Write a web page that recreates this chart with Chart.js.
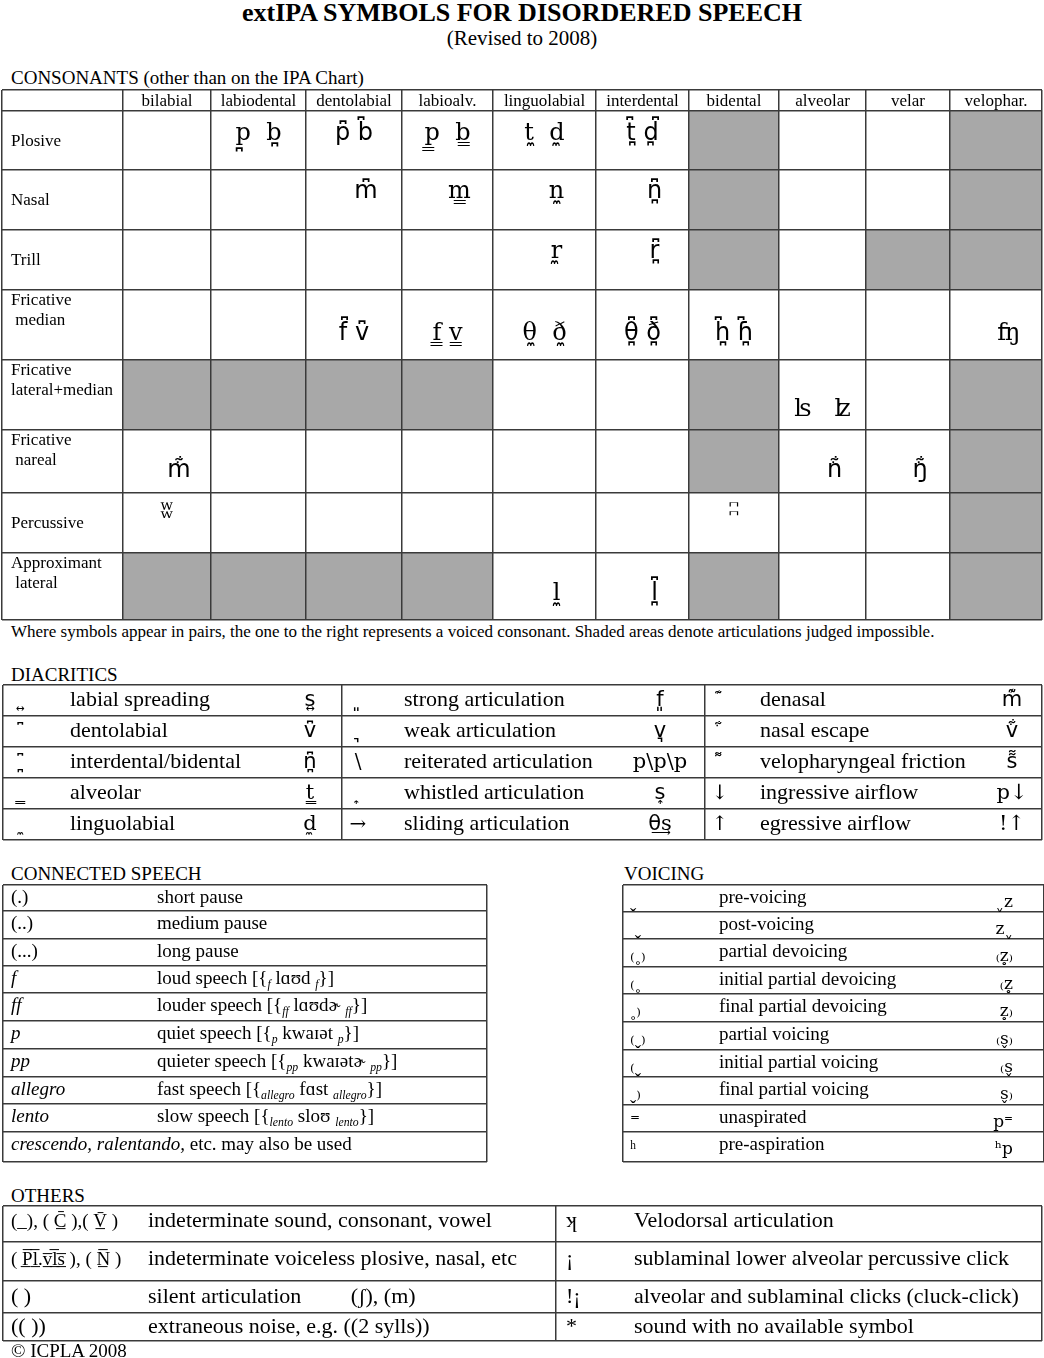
<!DOCTYPE html>
<html>
<head>
<meta charset="utf-8">
<script src="https://cdn.jsdelivr.net/npm/chart.js@4.4.1/dist/chart.umd.min.js"></script>
<style>
  body { margin: 0; background: #fff; }
  #page { position: relative; width: 1044px; height: 1358px; overflow: hidden;
          font-family: 'Liberation Serif', 'DejaVu Serif', serif; color: #000; }
  .t { position: absolute; white-space: nowrap; line-height: 1; }
  canvas { position: absolute; }
</style>
</head>
<body>
<div id="page">
  <div class="t" style="left:0;width:1044px;text-align:center;top:0px;font-size:26px;font-weight:bold">extIPA SYMBOLS FOR DISORDERED SPEECH</div>
  <div class="t" style="left:0;width:1044px;text-align:center;top:28px;font-size:21px">(Revised to 2008)</div>
  <div class="t" style="left:11px;top:68px;font-size:19px">CONSONANTS (other than on the IPA Chart)</div>
  <canvas id="consonants"></canvas>
  <div class="t" style="left:11px;top:623px;font-size:17px">Where symbols appear in pairs, the one to the right represents a voiced consonant. Shaded areas denote articulations judged impossible.</div>
  <div class="t" style="left:11px;top:665px;font-size:19px">DIACRITICS</div>
  <canvas id="diacritics"></canvas>
  <div class="t" style="left:11px;top:864px;font-size:19px">CONNECTED SPEECH</div>
  <canvas id="speech"></canvas>
  <div class="t" style="left:624px;top:864px;font-size:19px">VOICING</div>
  <canvas id="voicing"></canvas>
  <div class="t" style="left:11px;top:1186px;font-size:19px">OTHERS</div>
  <canvas id="others"></canvas>
  <div class="t" style="left:11px;top:1341px;font-size:19px">© ICPLA 2008</div>
</div>
<script>
// ---- data ----
const places = ['bilabial', 'labiodental', 'dentolabial', 'labioalv.', 'linguolabial',
  'interdental', 'bidental', 'alveolar', 'velar', 'velophar.'];
const manners = ['Plosive', 'Nasal', 'Trill', 'Fricative| median', 'Fricative|lateral+median',
  'Fricative| nareal', 'Percussive', 'Approximant| lateral'];

// [manner, place, symbols]
const consonants = [
  ['Plosive', 'labiodental', 'p\u032A  b\u032A'],
  ['Plosive', 'dentolabial', 'p\u0346 b\u0346'],
  ['Plosive', 'labioalv.', 'p\u0333  b\u0333'],
  ['Plosive', 'linguolabial', 't\u033C  d\u033C'],
  ['Plosive', 'interdental', 't\u0346\u032A d\u0346\u032A'],
  ['Nasal', 'dentolabial', '\u2003m\u0346'],
  ['Nasal', 'labioalv.', '\u2003m\u0333'],
  ['Nasal', 'linguolabial', '\u2003n\u033C'],
  ['Nasal', 'interdental', '\u2003n\u0346\u032A'],
  ['Trill', 'linguolabial', '\u2003r\u033C'],
  ['Trill', 'interdental', '\u2003r\u0346\u032A'],
  ['Fricative| median', 'dentolabial', 'f\u0346 v\u0346'],
  ['Fricative| median', 'labioalv.', 'f\u0333 v\u0333'],
  ['Fricative| median', 'linguolabial', '\u03B8\u033C  \u00F0\u033C'],
  ['Fricative| median', 'interdental', '\u03B8\u0346\u032A \u00F0\u0346\u032A'],
  ['Fricative| median', 'bidental', 'h\u0346\u032A \u0266\u0346\u032A'],
  ['Fricative| median', 'velophar.', '\u2003\u02A9'],
  ['Fricative|lateral+median', 'alveolar', '\u02AA   \u02AB'],
  ['Fricative| nareal', 'bilabial', '\u2003m\u034B'],
  ['Fricative| nareal', 'alveolar', '\u2003n\u034B'],
  ['Fricative| nareal', 'velar', '\u2003\u014B\u034B'],
  ['Percussive', 'bilabial', '\u02AC'],
  ['Percussive', 'bidental', '\u02AD'],
  ['Approximant| lateral', 'linguolabial', '\u2003l\u033C'],
  ['Approximant| lateral', 'interdental', '\u2003l\u0346\u032A']
];

// articulations judged impossible (shaded)
const impossible = [
  ['Plosive', 'bidental'], ['Plosive', 'velophar.'],
  ['Nasal', 'bidental'], ['Nasal', 'velophar.'],
  ['Trill', 'bidental'], ['Trill', 'velar'], ['Trill', 'velophar.'],
  ['Fricative|lateral+median', 'bilabial'], ['Fricative|lateral+median', 'labiodental'],
  ['Fricative|lateral+median', 'dentolabial'], ['Fricative|lateral+median', 'labioalv.'],
  ['Fricative|lateral+median', 'bidental'], ['Fricative|lateral+median', 'velophar.'],
  ['Fricative| nareal', 'bidental'], ['Fricative| nareal', 'velophar.'],
  ['Percussive', 'velophar.'],
  ['Approximant| lateral', 'bilabial'], ['Approximant| lateral', 'labiodental'],
  ['Approximant| lateral', 'dentolabial'], ['Approximant| lateral', 'labioalv.'],
  ['Approximant| lateral', 'bidental'], ['Approximant| lateral', 'velophar.']
];

const diacriticMarks = ['\u00A0\u034D', '\u00A0\u0346', '\u00A0\u0346\u032A', '\u00A0\u0333', '\u00A0\u033C',
  '\u00A0\u0348', '\u00A0\u0349', '\\', '\u00A0\u034E', '\u2192',
  '\u00A0\u034A', '\u00A0\u034B', '\u00A0\u034C', '\u2193', '\u2191'];
const diacriticNames = ['labial spreading', 'dentolabial', 'interdental/bidental', 'alveolar', 'linguolabial',
  'strong articulation', 'weak articulation', 'reiterated articulation', 'whistled articulation', 'sliding articulation',
  'denasal', 'nasal escape', 'velopharyngeal friction', 'ingressive airflow', 'egressive airflow'];
const diacriticExamples = ['s\u034D', 'v\u0346', 'n\u0346\u032A', 't\u0333', 'd\u033C',
  'f\u0348', 'v\u0349', 'p\\p\\p', 's\u034E', '\u03B8\u0362s',
  'm\u034A', 'v\u034B', 's\u034C', 'p\u2193', '!\u2191'];

const speechMarks = ['(.)', '(..)', '(...)', '*f*', '*ff*', '*p*', '*pp*', '*allegro*', '*lento*',
  '*crescendo, ralentando,* etc. may also be used'];
const speechMeanings = ['short pause', 'medium pause', 'long pause',
  'loud speech [{_{f} l\u0251\u028Ad _{f}}]',
  'louder speech [{_{ff} l\u0251\u028Ad\u025A _{ff}}]',
  'quiet speech [{_{p} kwa\u026A\u0259t _{p}}]',
  'quieter speech [{_{pp} kwa\u026A\u0259t\u025A _{pp}}]',
  'fast speech [{_{allegro} f\u0251st _{allegro}}]',
  'slow speech [{_{lento} slo\u028A _{lento}}]', ''];

const voicingMarks = ['\u02EC', '\u00A0\u02EC', '\u208D\u02F3\u208E', '\u208D\u02F3', '\u02F3\u208E',
  '\u208D\u02EC\u208E', '\u208D\u02EC', '\u02EC\u208E', '\u207C', '\u02B0'];
const voicingNames = ['pre-voicing', 'post-voicing', 'partial devoicing', 'initial partial devoicing',
  'final partial devoicing', 'partial voicing', 'initial partial voicing', 'final partial voicing',
  'unaspirated', 'pre-aspiration'];
const voicingExamples = ['\u02ECz', 'z\u02EC', '\u208Dz\u0325\u208E', '\u208Dz\u0325', 'z\u0325\u208E',
  '\u208Ds\u032C\u208E', '\u208Ds\u032C', 's\u032C\u208E', 'p\u207C', '\u02B0p'];

const otherMarks = ['(_), ( C\u0304\u0332 ),( V\u0304\u0332 )',
  '( P\u0305\u0332l\u0305\u0332.v\u0305\u0332l\u0305\u0332s\u0305\u0332 ), ( N\u0305\u0332 )',
  '( )', '(( ))', '\u029E', '\u00A1', '!\u00A1', '*'];
const otherMeanings = ['indeterminate sound, consonant, vowel', 'indeterminate voiceless plosive, nasal, etc',
  'silent articulation\u2003\u2003 (\u0283), (m)', 'extraneous noise, e.g. ((2 sylls))',
  'Velodorsal articulation', 'sublaminal lower alveolar percussive click',
  'alveolar and sublaminal clicks (cluck-click)', 'sound with no available symbol'];

// ---- drawing ----
const SERIF = "'Liberation Serif','DejaVu Serif',serif";
// DejaVu Serif for the letters; clusters with marks it lacks (bridge above etc.) fall to DejaVu Sans
const SYM = "'DejaVu Serif','DejaVu Sans'";
const LINE = '#3a3a3a';
const SHADE = '#a8a8a8';

// text with *italic* and _{italic subscript} runs
function rich(ctx, str, x, y, size, align, fam) {
  fam = fam || SERIF;
  const segs = [];
  str.replace(/_\{([^}]*)\}|\*([^*]*)\*|[^_*]+|[_*]/g, (m, sub, it) => {
    if (sub !== undefined) segs.push({ t: sub, f: `italic ${size * 0.62}px ${fam}`, dy: size * 0.22 });
    else if (it !== undefined) segs.push({ t: it, f: `italic ${size}px ${fam}`, dy: 0 });
    else segs.push({ t: m, f: `${size}px ${fam}`, dy: 0 });
    return m;
  });
  let w = 0;
  segs.forEach(s => { ctx.font = s.f; s.w = ctx.measureText(s.t).width; w += s.w; });
  let cx = align === 'center' ? x - w / 2 : align === 'right' ? x - w : x;
  ctx.textAlign = 'left';
  ctx.textBaseline = 'alphabetic';
  segs.forEach(s => { ctx.font = s.f; ctx.fillText(s.t, cx, y + s.dy); cx += s.w; });
}

function makeTable(id, left, top, cols, rows, shaded, texts) {
  const P = 2;
  const canvas = document.getElementById(id);
  canvas.width = cols[cols.length - 1] + 2 * P;
  canvas.height = rows[rows.length - 1] + 2 * P;
  canvas.style.left = (left - P) + 'px';
  canvas.style.top = (top - P) + 'px';
  const axis = (edges, extra) => Object.assign({
    type: 'linear', min: 0, max: edges[edges.length - 1],
    afterBuildTicks: ax => { ax.ticks = edges.map(v => ({ value: v })); },
    ticks: { display: false },
    grid: { color: LINE, lineWidth: 1.5, drawTicks: false },
    border: { display: false }
  }, extra);

  return new Chart(canvas, {
    type: 'scatter',
    data: { datasets: [] },
    options: {
      responsive: false, animation: false, events: [],
      layout: { padding: P },
      plugins: { legend: { display: false }, tooltip: { enabled: false } },
      scales: { x: axis(cols, { position: 'top' }), y: axis(rows, { reverse: true }) }
    },
    plugins: [{
      id: 'cells',
      beforeDraw(chart) {
        const { x, y } = chart.scales, ctx = chart.ctx;
        ctx.save();
        ctx.fillStyle = SHADE;
        shaded.forEach(([r, c]) => {
          const x0 = x.getPixelForValue(cols[c]), x1 = x.getPixelForValue(cols[c + 1]);
          const y0 = y.getPixelForValue(rows[r]), y1 = y.getPixelForValue(rows[r + 1]);
          ctx.fillRect(x0, y0, x1 - x0, y1 - y0);
        });
        ctx.restore();
      },
      afterDraw(chart) {
        const { x, y } = chart.scales, ctx = chart.ctx;
        ctx.save();
        ctx.fillStyle = '#000';
        texts.forEach(t => rich(ctx, t.s, x.getPixelForValue(t.x), y.getPixelForValue(t.y), t.size, t.align, t.fam));
        ctx.restore();
      }
    }]
  });
}

// consonant chart
(function () {
  const cols = [0, 121, 209, 304, 400, 491, 594, 687, 777, 864, 948, 1040];
  const rows = [0, 21, 80, 140, 200, 270, 340, 403, 463, 530];
  const symBase = [29, 28, 28, 50, 56, 47, 25, 47];
  const mid = c => (cols[c] + cols[c + 1]) / 2;
  const texts = [];
  places.forEach((p, i) => texts.push({ x: mid(i + 1), y: 16, s: p, size: 17, align: 'center' }));
  manners.forEach((m, i) => {
    const lines = m.split('|');
    lines.forEach((ln, k) => texts.push({ x: 9, y: rows[i + 1] + 35 - (lines.length - 1 - k) * 20, s: ln, size: 17 }));
  });
  consonants.forEach(([m, p, s]) => {
    const r = manners.indexOf(m), c = places.indexOf(p) + 1;
    texts.push({ x: mid(c), y: rows[r + 1] + symBase[r], s, size: 24, align: 'center', fam: SYM });
  });
  const shaded = impossible.map(([m, p]) => [manners.indexOf(m) + 1, places.indexOf(p) + 1]);
  makeTable('consonants', 2, 90, cols, rows, shaded, texts);
})();

// diacritics
(function () {
  const cols = [0, 339, 702, 1039];
  const rows = [0, 31, 62, 93, 124, 155];
  const markX = [19, 355, 717], nameX = [67, 401, 757], exX = [307, 657, 1009];
  const texts = [];
  diacriticNames.forEach((n, i) => {
    const g = Math.floor(i / 5), r = i % 5, y = rows[r] + 21;
    texts.push({ x: markX[g], y, s: diacriticMarks[i], size: 20, align: 'center', fam: SYM });
    texts.push({ x: nameX[g], y, s: n, size: 22 });
    texts.push({ x: exX[g], y, s: diacriticExamples[i], size: 21, align: 'center', fam: SYM });
  });
  makeTable('diacritics', 3, 685, cols, rows, [], texts);
})();

// connected speech
(function () {
  const cols = [0, 484];
  const rows = [0, 26, 54, 81, 108, 136, 164, 192, 219, 247, 277];
  const texts = [];
  speechMarks.forEach((m, r) => {
    texts.push({ x: 8, y: rows[r] + 18, s: m, size: 19 });
    if (speechMeanings[r]) texts.push({ x: 154, y: rows[r] + 18, s: speechMeanings[r], size: 19 });
  });
  makeTable('speech', 3, 885, cols, rows, [], texts);
})();

// voicing
(function () {
  const cols = [0, 421];
  const rows = [0, 27, 54, 82, 109, 137, 165, 192, 220, 247, 277];
  const texts = [];
  voicingNames.forEach((n, r) => {
    texts.push({ x: 7, y: rows[r] + 22, s: voicingMarks[r], size: 19 });
    texts.push({ x: 96, y: rows[r] + 18, s: n, size: 19 });
    texts.push({ x: 390, y: rows[r] + 22, s: voicingExamples[r], size: 17, align: 'right', fam: SYM });
  });
  makeTable('voicing', 623, 885, cols, rows, [], texts);
})();

// others
(function () {
  const cols = [0, 553, 1039];
  const rows = [0, 36, 75, 107, 135];
  const base = [21, 23, 22, 20];
  const markX = [8, 563], nameX = [145, 631];
  const texts = [];
  otherMeanings.forEach((n, i) => {
    const g = Math.floor(i / 4), r = i % 4, y = rows[r] + base[r];
    texts.push({ x: markX[g], y, s: otherMarks[i], size: (g === 0 && r < 2) ? 19 : 22 });
    texts.push({ x: nameX[g], y, s: n, size: 22 });
  });
  makeTable('others', 3, 1206, cols, rows, [], texts);
})();
</script>
</body>
</html>
